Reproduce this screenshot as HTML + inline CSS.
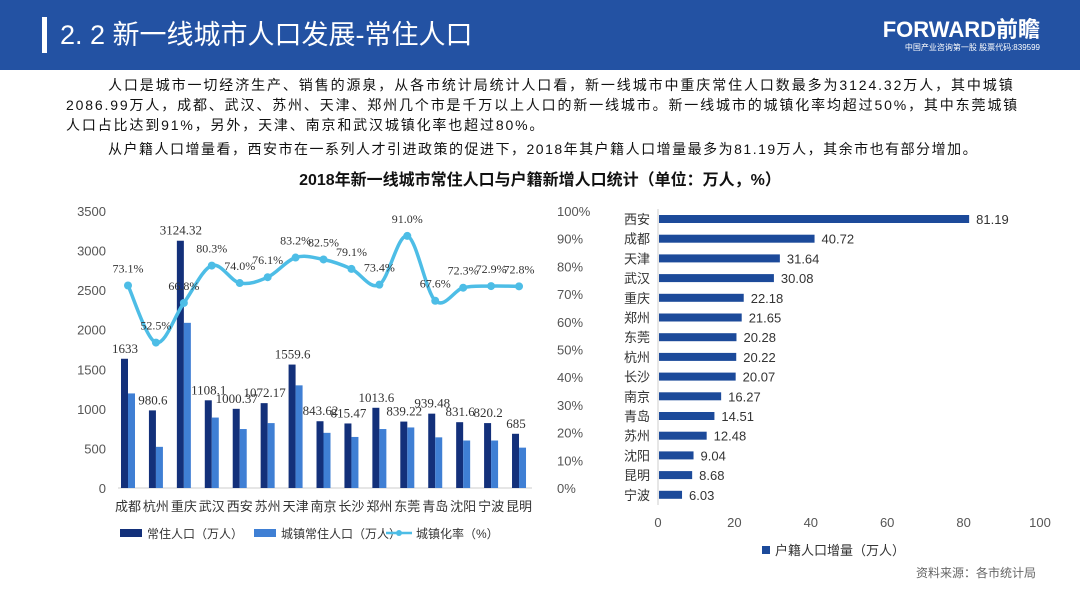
<!DOCTYPE html>
<html><head><meta charset="utf-8">
<style>
body{margin:0;width:1080px;height:608px;overflow:hidden;background:#fff;font-family:"Liberation Sans","Noto Sans CJK SC",sans-serif;}
#hdr{position:absolute;left:0;top:0;width:1080px;height:70px;background:#2352a3;}
#bar{position:absolute;left:42px;top:17px;width:5px;height:36px;background:#fff;}
#title{position:absolute;left:60px;top:16px;color:#fff;font-size:27px;line-height:38px;}
#logo{position:absolute;right:40px;top:18px;color:#fff;text-align:right;}
#logo .a{font-size:22px;font-weight:bold;line-height:24px;letter-spacing:0px}
#logo .b{font-size:8px;line-height:12px}
.p{position:absolute;font-size:14px;color:#111;line-height:20px;white-space:nowrap;}
#ct{position:absolute;left:0;width:1080px;top:166px;text-align:center;font-size:16px;font-weight:bold;color:#111}
svg text{font-family:"Liberation Sans","Noto Sans CJK SC",sans-serif;}
svg text.serif{font-family:"Liberation Serif","Noto Serif CJK SC",serif;}
</style></head><body>
<div id="hdr"></div>
<div id="bar"></div>
<div id="title">2. 2 新一线城市人口发展-常住人口</div>
<div id="logo"><div class="a">FORWARD前瞻</div><div class="b">中国产业咨询第一股 股票代码:839599</div></div>
<div class="p" style="left:108px;top:75px;letter-spacing:1.9px">人口是城市一切经济生产、销售的源泉，从各市统计局统计人口看，新一线城市中重庆常住人口数最多为3124.32万人，其中城镇</div>
<div class="p" style="left:66px;top:95px;letter-spacing:1.85px">2086.99万人，成都、武汉、苏州、天津、郑州几个市是千万以上人口的新一线城市。新一线城市的城镇化率均超过50%，其中东莞城镇</div>
<div class="p" style="left:66px;top:115px;letter-spacing:1.85px">人口占比达到91%，另外，天津、南京和武汉城镇化率也超过80%。</div>
<div class="p" style="left:108px;top:139px;letter-spacing:1.5px">从户籍人口增量看，西安市在一系列人才引进政策的促进下，2018年其户籍人口增量最多为81.19万人，其余市也有部分增加。</div>
<div id="ct">2018年新一线城市常住人口与户籍新增人口统计（单位：万人，%）</div>
<svg id="chart" width="1080" height="608" style="position:absolute;left:0;top:0"></svg>
<script>
const cities=["成都","杭州","重庆","武汉","西安","苏州","天津","南京","长沙","郑州","东莞","青岛","沈阳","宁波","昆明"];
const popTotal=[1633,980.6,3124.32,1108.1,1000.37,1072.17,1559.6,843.62,815.47,1013.6,839.22,939.48,831.6,820.2,685];
const popLabels=["1633","980.6","3124.32","1108.1","1000.37","1072.17","1559.6","843.62","815.47","1013.6","839.22","939.48","831.6","820.2","685"];
const popUrban=[1195,520,2087,890,745,820,1297,697,645,745,765,640,600,600,510];
const urbanRate=[73.1,52.5,66.8,80.3,74.0,76.1,83.2,82.5,79.1,73.4,91.0,67.6,72.3,72.9,72.8];
const leftTicks=[0,500,1000,1500,2000,2500,3000,3500];
const rightTicks=[0,10,20,30,40,50,60,70,80,90,100];
const hkCities=["西安","成都","天津","武汉","重庆","郑州","东莞","杭州","长沙","南京","青岛","苏州","沈阳","昆明","宁波"];
const hkValues=[81.19,40.72,31.64,30.08,22.18,21.65,20.28,20.22,20.07,16.27,14.51,12.48,9.04,8.68,6.03];
const hkTicks=[0,20,40,60,80,100];

const svg=document.getElementById('chart');
const NS='http://www.w3.org/2000/svg';
function mk(t,a,txt){const e=document.createElementNS(NS,t);for(const k in a)e.setAttribute(k,a[k]);if(txt!==undefined)e.textContent=txt;svg.appendChild(e);return e;}
const yL=v=>488-v/3500*277;
const yR=v=>488-v/100*277;
const xC=i=>128+i*27.93;
leftTicks.forEach(t=>{const e=mk('text',{x:106,y:yL(t)+5,'text-anchor':'end','font-size':13,fill:'#555'},t);

});
rightTicks.forEach(t=>{const e=mk('text',{x:557,y:yR(t)+5,'font-size':13,fill:'#555'},t+'%');

});
const ax=mk('line',{x1:118,x2:532,y1:488,y2:488,stroke:'#ccc','stroke-width':1});


cities.forEach((c,i)=>{
 const cx=xC(i);
 const b1=mk('rect',{x:cx-7,y:yL(popTotal[i]),width:7,height:488-yL(popTotal[i]),fill:'#13307a'});
 
 
 const b2=mk('rect',{x:cx,y:yL(popUrban[i]),width:7,height:488-yL(popUrban[i]),fill:'#3f7fd4'});
 
 
 const l=mk('text',{x:cx-3,y:yL(popTotal[i])-6,'text-anchor':'middle','font-size':13,class:'serif',fill:'#333'},popLabels[i]);
 
 
 const xl=mk('text',{x:cx,y:511,'text-anchor':'middle','font-size':13,fill:'#333'},c);
 
 
});
let pts=urbanRate.map((v,i)=>[xC(i),yR(v)]);
let d='M'+pts[0][0]+','+pts[0][1];
for(let i=0;i<pts.length-1;i++){const p0=pts[i-1]||pts[i],p1=pts[i],p2=pts[i+1],p3=pts[i+2]||p2;
 d+=' C'+(p1[0]+(p2[0]-p0[0])/6)+','+(p1[1]+(p2[1]-p0[1])/6)+' '+(p2[0]-(p3[0]-p1[0])/6)+','+(p2[1]-(p3[1]-p1[1])/6)+' '+p2[0]+','+p2[1];}
const ln=mk('path',{d:d,fill:'none',stroke:'#4dbde6','stroke-width':3.5});


pts.forEach((p,i)=>{const c=mk('circle',{cx:p[0],cy:p[1],r:4,fill:'#4dbde6'});


const t=mk('text',{x:p[0],y:p[1]-13,'text-anchor':'middle','font-size':12,class:'serif',fill:'#333'},urbanRate[i].toFixed(1)+'%');

});
function legRect(x,col,txt,n){const r=mk('rect',{x:x,y:529,width:22,height:8,fill:col});
const t=mk('text',{x:x+27,y:538,'font-size':12,fill:'#333'},txt);}
legRect(120,'#13307a','常住人口（万人）','legend-total');
legRect(254,'#3f7fd4','城镇常住人口（万人）','legend-urban');
const ll=mk('line',{x1:386,x2:412,y1:533,y2:533,stroke:'#4dbde6','stroke-width':2.5});
mk('circle',{cx:399,cy:533,r:3,fill:'#4dbde6'});
const lt=mk('text',{x:416,y:538,'font-size':12,fill:'#333'},'城镇化率（%）');
const xH=v=>658+v/100*382;
const yH=i=>219+i*19.7;
const ya=mk('line',{x1:658,x2:658,y1:209,y2:505,stroke:'#ccc','stroke-width':1});
hkTicks.forEach(t=>{const e=mk('text',{x:xH(t),y:527,'text-anchor':'middle','font-size':13,fill:'#555'},t);

});
hkCities.forEach((c,i)=>{
 const r=mk('rect',{x:659,y:yH(i)-4,width:xH(hkValues[i])-658,height:8,fill:'#1c4a9a'});
 
 
 const l=mk('text',{x:650,y:yH(i)+5,'text-anchor':'end','font-size':13,fill:'#333'},c);
 
 
 const v=mk('text',{x:xH(hkValues[i])+8,y:yH(i)+5,'font-size':13,fill:'#333'},hkValues[i].toFixed(2));
 
 
});
const hr=mk('rect',{x:762,y:546,width:8,height:8,fill:'#1c4a9a'});
const ht=mk('text',{x:775,y:555,'font-size':13,fill:'#333'},'户籍人口增量（万人）');
const src=mk('text',{x:1036,y:577,'text-anchor':'end','font-size':12,fill:'#666'},'资料来源：各市统计局');
</script>
</body></html>
